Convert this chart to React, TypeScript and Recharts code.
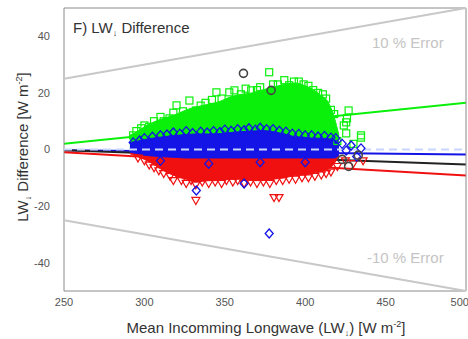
import React from 'react';
import {
  ComposedChart, Area, Line, Scatter, XAxis, YAxis, ReferenceLine, ReferenceArea, Label,
} from 'recharts';

// dense core of each cloud, low/high edge per x (W m-2)
const bandX = [291, 296, 300, 305, 312, 320, 326, 332, 340, 347, 353, 360, 367, 373, 380, 387, 394, 400, 404, 410, 414, 418, 421];
const greenHigh = [5, 6.5, 8, 9.5, 11, 12.5, 14, 15, 16, 17, 18.5, 19.5, 20, 21, 22, 23, 23.5, 22.5, 21.5, 19, 17, 11.5, 5];
const blueHigh = [2.5, 3, 3.5, 4, 4.5, 5, 5.3, 5.5, 5.5, 5.6, 6, 6.3, 6.5, 6.7, 6.3, 5.5, 4.5, 4.3, 4, 4, 3.8, 3.5, 2];
const blueLow = [-1, -1.5, -2, -2.3, -2.6, -2.8, -3, -3, -3, -3, -3, -3, -3, -3, -3, -3, -3, -3, -3, -3, -3, -3, -2];
const redLow = [-1.5, -2.5, -3.5, -5, -7.5, -9.5, -10.5, -11.5, -11, -11, -10.5, -10.5, -11, -11, -10.5, -10, -9.2, -9, -8.5, -7.8, -7, -5, -2];

// edge / outlier markers
const greenPts = [
  [293, 5], [295, 6.5], [298, 7.5], [300, 8.5], [303, 8], [306, 10], [310, 11.5], [312, 10], [315.6, 11],
  [318, 13], [320, 15.6], [324, 13.5], [328, 17.3], [332, 13.8], [335, 15.5], [338, 16.5], [342, 17.5],
  [344.8, 20.2], [348, 18], [352.8, 20.2], [356, 20.9], [360, 19.5], [363, 21.5], [366.4, 20.9], [370, 21],
  [372, 22], [377.6, 27.3], [380, 23], [383, 23], [387, 24.5], [390, 22.7], [393, 24], [396, 24], [399, 23],
  [402, 22.5], [405, 21], [408, 20], [411, 19.5], [413, 18], [416, 14], [418, 12.5], [424, 8.5],
  [425.5, 9.6], [425.5, 5.7], [427, 13.8], [426, 11], [434.7, 5], [434.7, 4.2], [420, 3], [430, 2],
  [308, 7], [322, 10.5], [336, 12], [350, 15], [364, 17.5], [378, 19], [392, 20.5], [406, 18],
];
const bluePts = [
  [293, 2.5], [297, 3.2], [300, 4], [305, 4.5], [310, 5], [314, 5.3], [318, 6], [322, 5.6], [326, 6.5],
  [330, 5.8], [335, 6.3], [339, 6], [343, 6.5], [347, 6.2], [350, 7], [354, 6.6], [358, 7.2], [362, 6.8],
  [365, 7.5], [369, 7], [372, 7.7], [376, 7.2], [380, 7.2], [384, 6.6], [388, 6.3], [392, 5.6], [396, 5.5],
  [400, 5], [404, 5], [408, 4.6], [412, 4.8], [416, 4.2], [419, 4], [423, 2],
  [428.6, 1.4], [434.7, 0.4], [425.5, -0.4], [432, -2.5], [310, -4], [340, -5], [372, -4.5], [400, -4.5],
  [332.3, -14.5], [362, -12], [377.6, -29.7],
];
const redPts = [
  [296, -3], [300, -4], [303, -5.5], [306, -6.5], [309, -7.5], [312, -8.5], [316, -9.5], [320, -8.5], [318, -11],
  [323, -11], [326, -12], [329, -11], [332, -12.5], [336, -11.5], [340, -12], [344, -11.5], [348, -12],
  [351, -11], [355, -11.5], [358, -11], [362, -12], [366, -11.5], [370, -12], [374, -11.5], [378, -12],
  [382, -11], [386, -11], [390, -10.5], [394, -10.5], [398, -10], [402, -10], [406, -9.5], [410, -9],
  [413, -8.5], [416, -8], [420, -6], [425, -4], [430, -5], [436, -4], [332, -18], [380.6, -17], [383.7, -17],
];
const blackPts = [[361.6, 26.9], [378.8, 20.9], [423, -3.5], [427, -6], [433, -2]];

// fitted lines and +-10 % error lines, at x = 250 and x = 500
const lineX = [250, 500];
const greenFit = [2, 16.5];
const blueFit = [-0.3, -1.8];
const blackFit = [-0.3, -5.3];
const redFit = [-1, -9.2];
const errUpper = [25, 50];
const errLower = [-25, -50];

const xTicks = [250, 300, 350, 400, 450, 500];
const yTicks = [-40, -20, 0, 20, 40];

const rows = bandX.map((x, i) => ({
  x,
  green: [0, greenHigh[i]],
  blue: [blueLow[i], blueHigh[i]],
  red: [redLow[i], -0.5],
}));

const toPts = (arr: number[][]) => arr.map(([x, y]) => ({ x, y }));
const seg = (ys: number[]) => lineX.map((x, i) => ({ x, y: ys[i] }));

const GREEN = '#0af00a';
const BLUE = '#1414e6';
const RED = '#f01010';
const FONT = '"Liberation Sans", Arial, sans-serif';

const square = (p: any) => (
  <rect x={p.cx - 3.5} y={p.cy - 3.5} width={7} height={7} fill="none" stroke={GREEN} strokeWidth={1.2} />
);
const diamond = (p: any) => (
  <polygon points={`${p.cx},${p.cy - 4.5} ${p.cx + 4},${p.cy} ${p.cx},${p.cy + 4.5} ${p.cx - 4},${p.cy}`}
    fill="none" stroke={BLUE} strokeWidth={1.3} />
);
const triangle = (p: any) => (
  <polygon points={`${p.cx - 4},${p.cy - 3} ${p.cx + 4},${p.cy - 3} ${p.cx},${p.cy + 4}`}
    fill="none" stroke={RED} strokeWidth={1.2} />
);
const ring = (p: any) => (
  <circle cx={p.cx} cy={p.cy} r={4} fill="none" stroke="#444" strokeWidth={1.6} />
);

const tickStyle = { fontSize: 11, fill: '#555', fontFamily: FONT };

// fits sit underneath the point clouds, as in the original figure
const fitLine = (ys: number[], color: string) => (
  <Line data={seg(ys)} dataKey="y" stroke={color} strokeWidth={2} dot={false} activeDot={false}
    isAnimationActive={false} {...({ zIndex: 50 } as any)} />
);

export default function App() {
  return (
    <div style={{ position: 'absolute', left: 0, top: 0, width: 468, height: 339, background: '#fff', fontFamily: FONT }}>
      <ComposedChart width={468} height={339} data={rows} margin={{ top: 8, right: 2, bottom: 18, left: 24 }}>
        <XAxis type="number" dataKey="x" domain={[250, 500]} ticks={xTicks} height={30}
          tick={tickStyle} tickLine={false} tickSize={4} tickMargin={3} axisLine={false} allowDataOverflow>
          <Label content={() => (
            <g fontFamily={FONT}>
              <text x={266} y={333} textAnchor="middle" fontSize={15} fill="#333">
                Mean Incomming Longwave (LW<tspan fontSize={9} dy={3}>↓</tspan><tspan dy={-3}>) [W m</tspan>
                <tspan fontSize={9} dy={-6}>-2</tspan><tspan dy={6}>]</tspan>
              </text>
              <text x={73} y={33} fontSize={15} fill="#333">
                F) LW<tspan fontSize={9} dy={3}>↓</tspan><tspan dy={-3}> Difference</tspan>
              </text>
              <text x={372} y={48} fontSize={15} fill="#c4c4c4">10 % Error</text>
              <text x={367} y={263} fontSize={15} fill="#c4c4c4">-10 % Error</text>
            </g>
          )} />
        </XAxis>
        <YAxis type="number" domain={[-50, 50]} ticks={yTicks} width={40}
          tick={tickStyle} tickLine={false} tickSize={4} tickMargin={10} axisLine={false} allowDataOverflow>
          <Label content={() => (
            <text x={28} y={147} transform="rotate(-90 28 147)" textAnchor="middle" fontSize={15} fill="#333" fontFamily={FONT}>
              LW<tspan fontSize={9} dy={3}>↓</tspan><tspan dy={-3}> Difference [W m</tspan>
              <tspan fontSize={9} dy={-6}>-2</tspan><tspan dy={6}>]</tspan>
            </text>
          )} />
        </YAxis>

        <ReferenceLine segment={seg(errUpper)} stroke="#c8c8c8" strokeWidth={2} />
        <ReferenceLine segment={seg(errLower)} stroke="#c8c8c8" strokeWidth={2} />
        {fitLine(greenFit, GREEN)}
        {fitLine(blueFit, BLUE)}
        {fitLine(blackFit, '#222')}
        {fitLine(redFit, RED)}

        <Area dataKey="green" type="monotone" fill={GREEN} fillOpacity={1} stroke={GREEN} isAnimationActive={false} />
        <Scatter data={toPts(greenPts)} dataKey="y" shape={square} isAnimationActive={false} />
        <Area dataKey="red" type="monotone" fill={RED} fillOpacity={1} stroke={RED} isAnimationActive={false} />
        <Scatter data={toPts(redPts)} dataKey="y" shape={triangle} isAnimationActive={false} />
        <Area dataKey="blue" type="monotone" fill={BLUE} fillOpacity={1} stroke={BLUE} isAnimationActive={false} />
        <Scatter data={toPts(bluePts)} dataKey="y" shape={diamond} isAnimationActive={false} />
        <Scatter data={toPts(blackPts)} dataKey="y" shape={ring} isAnimationActive={false} />

        <ReferenceLine y={0} stroke="#c8d6ff" strokeWidth={2} strokeDasharray="8 5" />
        <ReferenceArea x1={250} x2={500} y1={-50} y2={50} fill="none" stroke="#8a8a8a" strokeWidth={1} />
      </ComposedChart>
    </div>
  );
}
